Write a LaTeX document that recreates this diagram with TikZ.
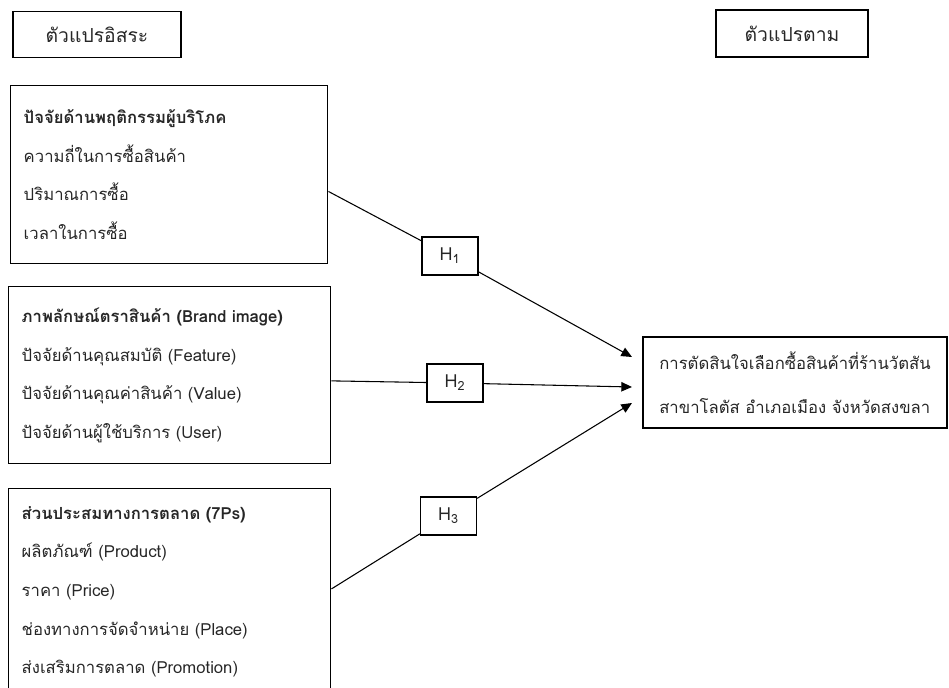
\documentclass[tikz,border=0pt]{standalone}
\usepackage{fontspec}
\setmainfont[Script=Thai]{Loma}
\usetikzlibrary{arrows.meta}

\begin{document}
\begin{tikzpicture}[
x=0.75pt, y=-0.75pt,
every node/.style={font=\fontsize{12.5}{29}\selectfont, text=black!85},
headbox/.style={draw, line width=1.1pt, minimum height=34.5pt, inner sep=0pt,
    font=\fontsize{14.5}{17}\selectfont},
varbox/.style={draw, line width=1.1pt, align=left, anchor=north west,
    inner xsep=9.75pt, inner ysep=0pt},
hbox/.style={draw, line width=1pt, minimum width=42pt, minimum height=28.5pt, inner sep=0pt,
    font=\fontsize{13.5}{16}\selectfont},
link/.style={line width=0.8pt},
hyparrow/.style={-{Triangle[length=8pt,width=7pt]}}
]
\useasboundingbox (0,0) rectangle (949,688);

%---------------- Headings ----------------
\node[headbox, minimum width=126pt] (iv) at (97,34.5) {ตัวแปรอิสระ};
\node[headbox, minimum width=114pt, minimum height=35.25pt] (dv) at (792,33.5) {ตัวแปรตาม};

%---------------- Independent ----------------
\node[varbox, text width=218.25pt, minimum height=133.5pt] (behav) at (10,85)
    {\textbf{ปัจจัยด้านพฤติกรรมผู้บริโภค}\\ความถี่ในการซื้อสินค้า\\ปริมาณการซื้อ\\เวลาในการซื้อ};
\node[varbox, text width=222pt, minimum height=132.75pt] (brand) at (8,286)
    {\textbf{ภาพลักษณ์ตราสินค้า (Brand image)}\\ปัจจัยด้านคุณสมบัติ (Feature)\\ปัจจัยด้านคุณค่าสินค้า (Value)\\ปัจจัยด้านผู้ใช้บริการ (User)};
\node[varbox, text width=222pt, minimum height=154.5pt] (mix) at (8,488)
    {\textbf{ส่วนประสมทางการตลาด (7Ps)}\\ผลิตภัณฑ์ (Product)\\ราคา (Price)\\ช่องทางการจัดจำหน่าย (Place)\\ส่งเสริมการตลาด (Promotion)};

%---------------- Dependent ----------------
\node[draw, line width=1.1pt, align=left, minimum width=228pt, minimum height=68.25pt,
    inner sep=0pt, font=\fontsize{12.5}{33}\selectfont] (goal) at (795,382.5)
    {การตัดสินใจเลือกซื้อสินค้าที่ร้านวัตสัน\\สาขาโลตัส อำเภอเมือง จังหวัดสงขลา};

%---------------- Hypotheses ----------------
\node[hbox] (h1) at (450,256) {H\textsubscript{1}};
\node[hbox] (h2) at (455,383) {H\textsubscript{2}};
\node[hbox] (h3) at (448.5,516) {H\textsubscript{3}};

\coordinate (t1) at (632,357);
\coordinate (t2) at (632,387);
\coordinate (t3) at (632,403);

\draw[link] (behav.-6) -- (h1);
\draw[link,hyparrow] (h1) -- (t1);
\draw[link] (brand.-2) -- (h2);
\draw[link,hyparrow] (h2) -- (t2);
\draw[link] (mix.1) -- (h3);
\draw[link,hyparrow] (h3) -- (t3);

\end{tikzpicture}
\end{document}
